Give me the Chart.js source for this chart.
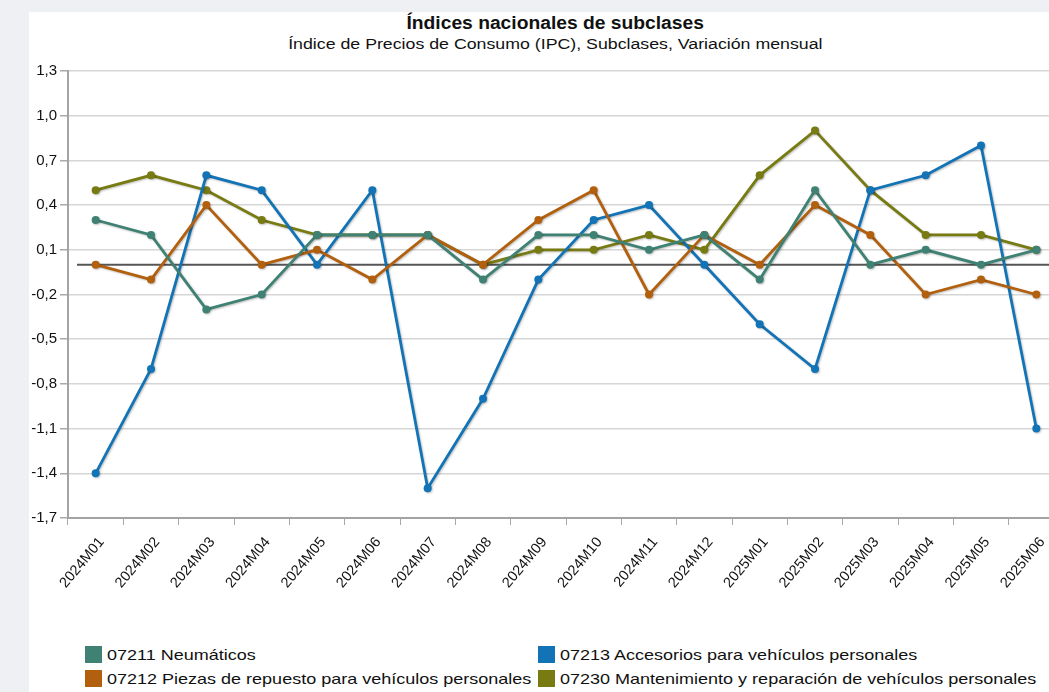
<!DOCTYPE html>
<html lang="es">
<head>
<meta charset="utf-8">
<title>Índices nacionales de subclases</title>
<script src="https://cdn.jsdelivr.net/npm/chart.js@4.4.1/dist/chart.umd.min.js"></script>
<style>
  body { margin: 0; width: 1049px; height: 692px; overflow: hidden; position: relative;
         background: #eef0f3; font-family: "Liberation Sans", Arial, sans-serif; color: #111; }
  #panel { position: absolute; left: 29px; top: 12px; width: 1020px; height: 680px; background: #fff; }
  .ttl { position: absolute; left: 35px; width: 1040px; text-align: center; white-space: nowrap; }
  .ttl span { display: inline-block; }
  #title { top: 14px; font-size: 17.5px; line-height: 18px; font-weight: bold; }
  #title span { transform: scaleX(1.1); }
  #subtitle { top: 36px; font-size: 15.5px; line-height: 16px; }
  #subtitle span { transform: scaleX(1.145); }
  #wrap { position: absolute; left: 29px; top: 59px; width: 1040px; height: 571px; }
  #legend { position: absolute; left: 85px; top: 642px; display: grid;
            grid-template-columns: 453px auto; grid-auto-flow: column; grid-template-rows: 24px 24px;
            font-size: 15px; }
  #legend div { display: flex; align-items: center; white-space: nowrap; }
  #legend span.box { width: 17px; height: 17px; margin-right: 5px; display: inline-block; }
  #legend span.txt { display: inline-block; transform: scaleX(1.2); transform-origin: left center; }
</style>
</head>
<body>
<div id="panel"></div>
<div id="title" class="ttl"><span>Índices nacionales de subclases</span></div>
<div id="subtitle" class="ttl"><span>Índice de Precios de Consumo (IPC), Subclases, Variación mensual</span></div>
<div id="wrap"><canvas id="chart"></canvas></div>
<div id="legend"></div>
<script>
const periods = ['2024M01', '2024M02', '2024M03', '2024M04', '2024M05', '2024M06', '2024M07', '2024M08', '2024M09',
  '2024M10', '2024M11', '2024M12', '2025M01', '2025M02', '2025M03', '2025M04', '2025M05', '2025M06'];

const names = [
  '07211 Neumáticos',
  '07212 Piezas de repuesto para vehículos personales',
  '07213 Accesorios para vehículos personales',
  '07230 Mantenimiento y reparación de vehículos personales'
];
const colors = ['#3f8274', '#b2600e', '#1274b6', '#777b12'];

const neumaticos = [0.3, 0.2, -0.3, -0.2, 0.2, 0.2, 0.2, -0.1, 0.2, 0.2, 0.1, 0.2, -0.1, 0.5, 0.0, 0.1, 0.0, 0.1];
const piezas = [0.0, -0.1, 0.4, 0.0, 0.1, -0.1, 0.2, 0.0, 0.3, 0.5, -0.2, 0.2, 0.0, 0.4, 0.2, -0.2, -0.1, -0.2];
const accesorios = [-1.4, -0.7, 0.6, 0.5, 0.0, 0.5, -1.5, -0.9, -0.1, 0.3, 0.4, 0.0, -0.4, -0.7, 0.5, 0.6, 0.8, -1.1];
const mantenimiento = [0.5, 0.6, 0.5, 0.3, 0.2, 0.2, 0.2, 0.0, 0.1, 0.1, 0.2, 0.1, 0.6, 0.9, 0.5, 0.2, 0.2, 0.1];

const series = [neumaticos, piezas, accesorios, mantenimiento];

const yMin = -1.7, yMax = 1.3, yStep = 0.3;

// linea del cero
const zeroLine = {
  id: 'zeroLine',
  beforeDatasetsDraw(chart) {
    const { ctx, chartArea, scales } = chart;
    const y = scales.y.getPixelForValue(0);
    ctx.save();
    ctx.strokeStyle = '#555';
    ctx.lineWidth = 2;
    ctx.beginPath();
    ctx.moveTo(chartArea.left + 9, y);
    ctx.lineTo(chartArea.right, y);
    ctx.stroke();
    ctx.restore();
  }
};

// sombra suave de las lineas
const shadow = {
  id: 'shadow',
  beforeDatasetsDraw(chart) {
    chart.ctx.save();
    chart.ctx.shadowColor = 'rgba(0,0,0,0.25)';
    chart.ctx.shadowBlur = 2;
    chart.ctx.shadowOffsetX = 1;
    chart.ctx.shadowOffsetY = 1;
  },
  afterDatasetsDraw(chart) {
    chart.ctx.restore();
  }
};

const fmt = v => v.toFixed(1).replace('.', ',');

new Chart(document.getElementById('chart'), {
  type: 'line',
  data: {
    labels: periods,
    datasets: series.map((d, i) => ({
      label: names[i],
      data: d,
      borderColor: colors[i],
      backgroundColor: colors[i],
      borderWidth: 2.8,
      pointRadius: 4,
      pointBorderWidth: 0,
      tension: 0
    }))
  },
  options: {
    responsive: true,
    maintainAspectRatio: false,
    animation: false,
    layout: { padding: { top: 10, right: 5, bottom: 0, left: 0 } },
    plugins: {
      legend: { display: false },
      title: { display: false },
      tooltip: { enabled: false }
    },
    scales: {
      x: {
        offset: true,
        grid: { offset: true, drawOnChartArea: false, tickLength: 7, color: '#a9a9a9', lineWidth: 1 },
        border: { color: '#a3a3a3', width: 2 },
        ticks: {
          color: '#111', autoSkip: false, minRotation: 50, maxRotation: 50, padding: 9, labelOffset: 6,
          font: { family: 'Liberation Sans', size: 14.5 }
        },
        afterFit(s) { s.height = 112; }
      },
      y: {
        min: yMin,
        max: yMax,
        grid: { color: '#d6d6d6', lineWidth: 1.5, tickLength: 8, tickColor: '#a9a9a9' },
        border: { color: '#a3a3a3', width: 2 },
        ticks: {
          stepSize: yStep, padding: 3, color: '#111',
          font: { family: 'Liberation Sans', size: 15 },
          callback: v => fmt(v)
        },
        afterFit(s) { s.width = 39; }
      }
    }
  },
  plugins: [zeroLine, shadow]
});

// leyenda en dos columnas
const legend = document.getElementById('legend');
names.forEach((n, i) => {
  const item = document.createElement('div');
  const box = document.createElement('span');
  box.className = 'box';
  box.style.background = colors[i];
  const txt = document.createElement('span');
  txt.className = 'txt';
  txt.textContent = n;
  item.appendChild(box);
  item.appendChild(txt);
  legend.appendChild(item);
});
</script>
</body>
</html>
